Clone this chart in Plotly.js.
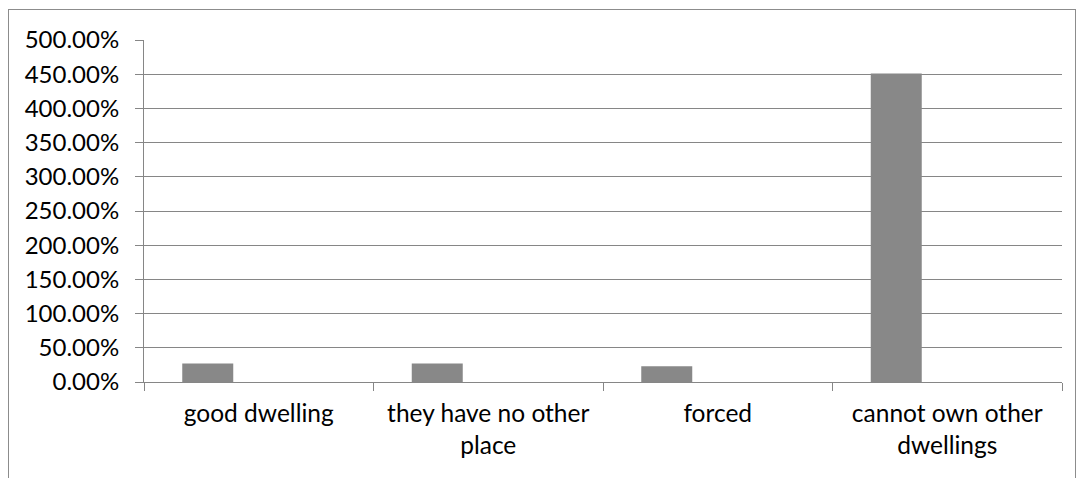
<!DOCTYPE html>
<html>
<head>
<meta charset="utf-8">
<script src="https://cdn.plot.ly/plotly-3.0.1.min.js"></script>
<style>
  html, body { margin: 0; padding: 0; background: #fff; }
  #frame { position: absolute; left: 8px; top: 9px; width: 1066px; height: 480px;
           border-left: 1px solid #8c8c8c; border-top: 1px solid #8c8c8c; border-right: 1px solid #8c8c8c; }
  #chart { position: absolute; left: 0; top: 0; width: 1081px; height: 478px; }
</style>
</head>
<body>
<div id="frame"></div>
<div id="chart"></div>
<script>
const categories = ["good dwelling", "they have no other<br>place", "forced", "cannot own other<br>dwellings"];
const seriesA = [0.27, 0.27, 0.23, 4.51];
const seriesB = [null, null, null, null];
const seriesC = [null, null, null, null];
const yTickValues = [0, 0.5, 1, 1.5, 2, 2.5, 3, 3.5, 4, 4.5, 5];

const barColor = "#888888";
const traces = [
  { type: "bar", x: categories, y: seriesA, marker: { color: barColor, line: { width: 0 } }, hoverinfo: "none" },
  { type: "bar", x: categories, y: seriesB, marker: { color: barColor }, hoverinfo: "none" },
  { type: "bar", x: categories, y: seriesC, marker: { color: barColor }, hoverinfo: "none" }
];

const fontFam = "Lato, 'Open Sans', sans-serif";
const layout = {
  width: 1081, height: 478,
  margin: { l: 144, r: 19, t: 40, b: 96 },
  paper_bgcolor: "rgba(0,0,0,0)",
  plot_bgcolor: "rgba(0,0,0,0)",
  showlegend: false,
  barmode: "group",
  bargap: 0.3333,
  bargroupgap: 0,
  font: { family: fontFam, size: 24, color: "#000" },
  xaxis: {
    type: "category",
    range: [-0.5, 3.5],
    showline: true, linecolor: "#868686", linewidth: 1,
    ticks: "outside", tickson: "boundaries", ticklen: 8, tickcolor: "#868686",
    showgrid: false, zeroline: false,
    tickfont: { family: fontFam, size: 24.5, color: "#000" },
    ticklabelstandoff: 10
  },
  yaxis: {
    range: [0, 5],
    tickvals: yTickValues,
    tickformat: ".2%",
    showline: true, linecolor: "#868686", linewidth: 1,
    ticks: "outside", ticklen: 8, tickcolor: "#868686",
    showgrid: true, gridcolor: "#868686", gridwidth: 1,
    zeroline: false,
    tickfont: { family: fontFam, size: 24, color: "#000" },
    ticklabelstandoff: 11
  }
};

Plotly.newPlot("chart", traces, layout, { staticPlot: true, displayModeBar: false });
</script>
</body>
</html>
